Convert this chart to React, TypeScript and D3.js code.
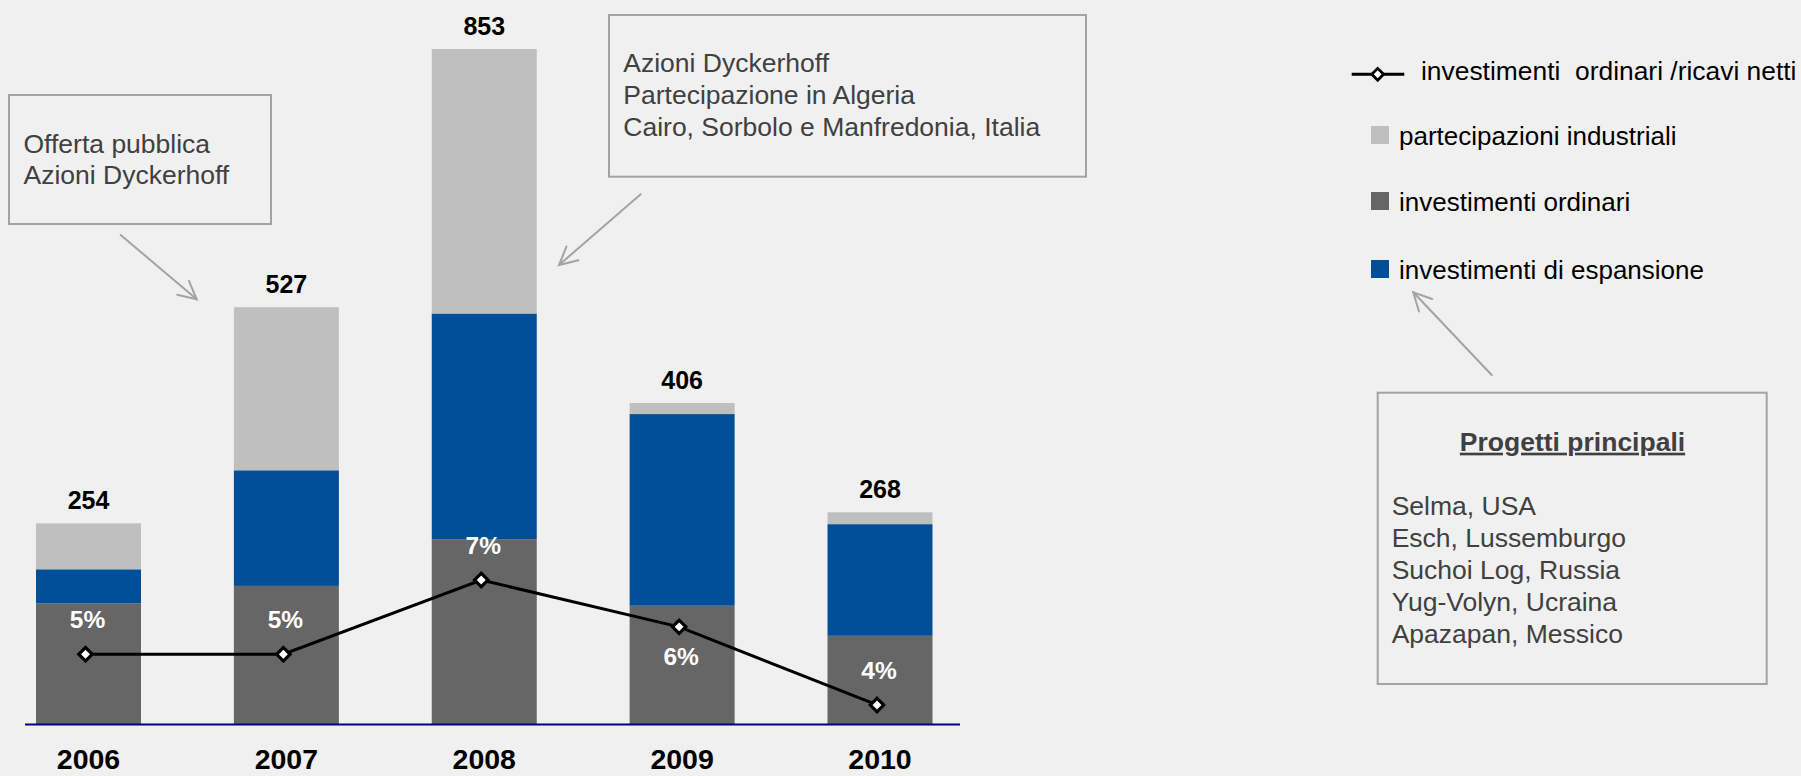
import React from "react";
import * as d3 from "d3";

// ---- data ----
const years = ["2006", "2007", "2008", "2009", "2010"];
const investimentiOrdinari = [153, 175, 234, 150, 112];
const investimentiEspansione = [43, 146, 285, 242, 141];
const partecipazioniIndustriali = [58, 206, 334, 14, 15];
const totals = [254, 527, 853, 406, 268];
const ratioOrdinariRicavi = [5.3, 5.3, 7.2, 6.0, 4.0];

const seriesKeys = ["ordinari", "espansione", "partecipazioni"];
const seriesColors: Record<string, string> = {
  ordinari: "#666666",
  espansione: "#004F98",
  partecipazioni: "#BFBFBF",
};

const legendItems = [
  { key: "partecipazioni", label: "partecipazioni industriali" },
  { key: "ordinari", label: "investimenti ordinari" },
  { key: "espansione", label: "investimenti di espansione" },
];
const lineLegendLabel = "investimenti\u00a0 ordinari /ricavi netti";

const box1Lines = ["Offerta pubblica", "Azioni Dyckerhoff"];
const box2Lines = [
  "Azioni Dyckerhoff",
  "Partecipazione in Algeria",
  "Cairo, Sorbolo e Manfredonia, Italia",
];
const projectsTitle = "Progetti principali";
const projectsLines = [
  "Selma, USA",
  "Esch, Lussemburgo",
  "Suchoi Log, Russia",
  "Yug-Volyn, Ucraina",
  "Apazapan, Messico",
];
const labelBelowYears = ["2009"];

// ---- layout ----
const W = 1801;
const H = 776;
const BASE = 724.5;
const FONT = "'Liberation Sans', Arial, Helvetica, sans-serif";
const BG = "#F0F0F0";
const ANNOT = "#A3A3A3";
const TXT = "#404040";

export default function App() {
  React.useEffect(() => {
    document.body.style.margin = "0";
  }, []);

  const rows = years.map((y, i) => ({
    year: y,
    ordinari: investimentiOrdinari[i],
    espansione: investimentiEspansione[i],
    partecipazioni: partecipazioniIndustriali[i],
  }));
  const stacked = d3.stack<any>().keys(seriesKeys)(rows);

  const x = d3.scalePoint<string>().domain(years).range([88.5, 880]);
  const barW = 105;
  const y = d3.scaleLinear().domain([0, 853]).range([BASE, 49]);
  const yLine = d3.scaleLinear().domain([3.5, 9]).range([BASE, BASE - 214.8]);
  const lineOffset = -3;

  const linePts = years.map((yr, i) => [
    (x(yr) as number) + lineOffset,
    yLine(ratioOrdinariRicavi[i]),
  ]) as [number, number][];
  const linePath = d3.line()(linePts) || "";
  const diamond = d3.symbol(d3.symbolSquare, 90)() || "";

  const arrow = (x1: number, y1: number, x2: number, y2: number) => {
    const ang = Math.atan2(y2 - y1, x2 - x1);
    const len = 20;
    const a = (27 * Math.PI) / 180;
    const p1 = [x2 - len * Math.cos(ang - a), y2 - len * Math.sin(ang - a)];
    const p2 = [x2 - len * Math.cos(ang + a), y2 - len * Math.sin(ang + a)];
    return (
      <g stroke={ANNOT} strokeWidth={2} fill="none" strokeLinecap="round">
        <line x1={x1} y1={y1} x2={x2} y2={y2} />
        <polyline points={`${p1[0]},${p1[1]} ${x2},${y2} ${p2[0]},${p2[1]}`} />
      </g>
    );
  };

  return (
    <svg
      width={W}
      height={H}
      style={{ position: "absolute", left: 0, top: 0, display: "block" }}
      fontFamily={FONT}
    >
      <rect x={0} y={0} width={W} height={H} fill={BG} />

      {/* bars */}
      {stacked.map((s) => (
        <g key={s.key} fill={seriesColors[s.key]}>
          {s.map((d, i) => (
            <rect
              key={i}
              x={(x(years[i]) as number) - barW / 2}
              y={y(d[1])}
              width={barW}
              height={y(d[0]) - y(d[1])}
            />
          ))}
        </g>
      ))}

      {/* axis */}
      <line x1={25} x2={960} y1={BASE} y2={BASE} stroke="#000080" strokeWidth={2} />

      {/* totals */}
      {years.map((yr, i) => (
        <text
          key={yr}
          x={x(yr)}
          y={y(totals[i]) - 14}
          textAnchor="middle"
          fontWeight="bold"
          fontSize={25}
          fill="#000"
        >
          {totals[i]}
        </text>
      ))}

      {/* year labels */}
      {years.map((yr) => (
        <text
          key={yr}
          x={x(yr)}
          y={769}
          textAnchor="middle"
          fontWeight="bold"
          fontSize={28.5}
          fill="#000"
        >
          {yr}
        </text>
      ))}

      {/* ratio line */}
      <path d={linePath} fill="none" stroke="#000" strokeWidth={3} />
      {linePts.map((p, i) => (
        <path
          key={i}
          d={diamond}
          transform={`translate(${p[0]},${p[1]}) rotate(45)`}
          fill="#fff"
          stroke="#000"
          strokeWidth={3.2}
        />
      ))}
      {linePts.map((p, i) => (
        <text
          key={i}
          x={p[0] + 2}
          y={labelBelowYears.includes(years[i]) ? p[1] + 38 : p[1] - 26}
          textAnchor="middle"
          fontWeight="bold"
          fontSize={24.5}
          fill="#fff"
        >
          {Math.round(ratioOrdinariRicavi[i])}%
        </text>
      ))}

      {/* annotation box 1 */}
      <rect x={9} y={95} width={262} height={129} fill="none" stroke={ANNOT} strokeWidth={2} />
      {box1Lines.map((t, i) => (
        <text key={i} x={23.5} y={153.3 + i * 31} fontSize={26.5} fill={TXT}>
          {t}
        </text>
      ))}
      {arrow(120.7, 235, 196.7, 299.3)}

      {/* annotation box 2 */}
      <rect x={609} y={15} width={477} height={161.7} fill="none" stroke={ANNOT} strokeWidth={2} />
      {box2Lines.map((t, i) => (
        <text key={i} x={623.3} y={72.3 + i * 31.9} fontSize={26.5} fill={TXT}>
          {t}
        </text>
      ))}
      {arrow(640.7, 194.3, 559, 265)}

      {/* legend */}
      <line x1={1351.7} x2={1404.3} y1={74.3} y2={74.3} stroke="#000" strokeWidth={3} />
      <path
        d={d3.symbol(d3.symbolSquare, 70)() || ""}
        transform="translate(1377.7,74.3) rotate(45)"
        fill="#fff"
        stroke="#000"
        strokeWidth={2.8}
      />
      <text x={1421} y={80} fontSize={26.4} fill="#000">
        {lineLegendLabel}
      </text>
      {legendItems.map((it, i) => {
        const cy = [135, 201, 269][i];
        return (
          <g key={it.key}>
            <rect x={1371} y={cy - 9} width={18} height={18} fill={seriesColors[it.key]} />
            <text x={1399} y={cy + 9.5} fontSize={26} fill="#000">
              {it.label}
            </text>
          </g>
        );
      })}
      {arrow(1491.7, 375, 1413.3, 292.3)}

      {/* projects box */}
      <rect x={1377.7} y={392.7} width={389} height={291.3} fill="none" stroke={ANNOT} strokeWidth={2} />
      <text
        x={1572.5}
        y={450.7}
        textAnchor="middle"
        fontWeight="bold"
        fontSize={26.5}
        fill={TXT}
        textDecoration="underline"
      >
        {projectsTitle}
      </text>
      {projectsLines.map((t, i) => (
        <text key={i} x={1391.7} y={515 + i * 31.9} fontSize={26.5} fill={TXT}>
          {t}
        </text>
      ))}
    </svg>
  );
}
